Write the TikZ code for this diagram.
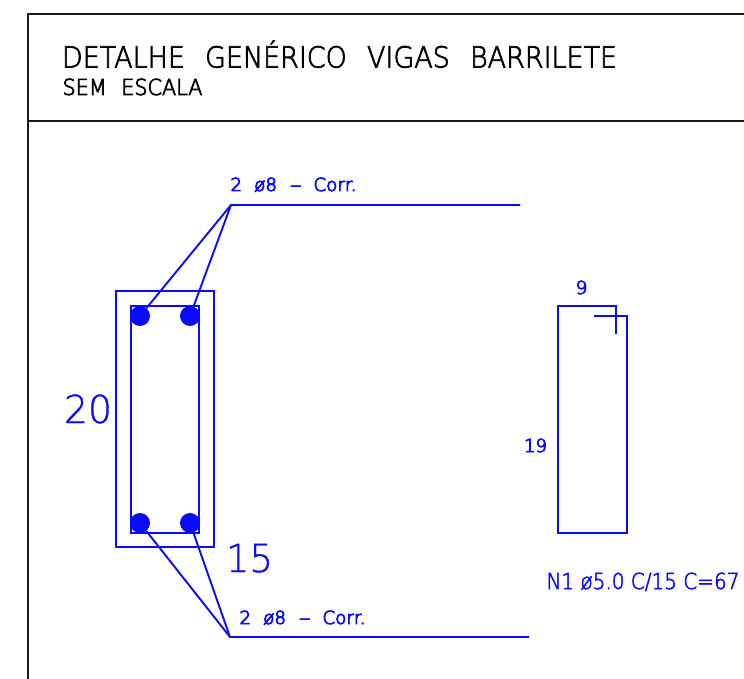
\documentclass[tikz,border=0pt]{standalone}
\usepackage{graphicx}
\usepackage{fontspec}
\newfontfamily\titlefont[FakeBold=2.5]{DejaVu Sans ExtraLight}
\newfontfamily\subfont[FakeBold=3.5]{DejaVu Sans ExtraLight}
\newfontfamily\labelfont[FakeBold=5]{DejaVu Sans ExtraLight}
\newfontfamily\dimfont[FakeBold=1]{DejaVu Sans ExtraLight}
\newfontfamily\notefont[FakeBold=2.5]{DejaVu Sans ExtraLight}
\definecolor{cadblue}{RGB}{10,10,255}
\definecolor{frameink}{RGB}{25,25,25}
\newcommand\fitw[2]{\resizebox{#1}{\height}{#2}}
\tikzset{
  frameline/.style={draw=frameink,line width=2pt},
  rebar/.style={draw=cadblue,line width=1.9pt},
  boxline/.style={rectangle,draw=cadblue,line width=1.9pt,inner sep=0pt,outer sep=0pt,anchor=north west},
  barnode/.style={circle,fill=cadblue,inner sep=0pt,outer sep=0pt,minimum size=20pt},
  txt/.style={anchor=base west,inner sep=0pt,outer sep=0pt},
  title/.style={txt,text=black},
  thin/.style={txt,text=cadblue},
  small/.style={txt,text=cadblue}
}
\begin{document}
\begin{tikzpicture}[x=1pt,y=-1pt]
\useasboundingbox (0,0) rectangle (744,679);
% frame
\coordinate (ftl) at (28,14);
\coordinate (ftr) at (744,14);
\coordinate (fbl) at (28,679);
\coordinate (fml) at (28,121);
\coordinate (fmr) at (744,121);
\draw[frameline] (ftr) -- (ftl) -- (fbl);
\draw[frameline] (fml) -- (fmr);
% title
\node[title,font=\titlefont\fontsize{29}{30}\selectfont] (t1) at (62,67.5) {\fitw{555pt}{DETALHE\hspace{0.75em}GENÉRICO\hspace{0.75em}VIGAS\hspace{0.75em}BARRILETE}};
\node[title,font=\subfont\fontsize{22}{22}\selectfont] (t2) at (62.5,95) {\fitw{140pt}{SEM\hspace{0.7em}ESCALA}};
% section
\node[boxline,minimum width=98pt,minimum height=256pt] (outer) at (116,291) {};
\node[boxline,minimum width=68pt,minimum height=227pt] (inner) at (131,306) {};
\node[barnode] (b1) at (140,316) {};
\node[barnode] (b2) at (190,316) {};
\node[barnode] (b3) at (140,523) {};
\node[barnode] (b4) at (190,523) {};
% leaders
\coordinate (l1) at (231,205);
\coordinate (l1e) at (520,205);
\coordinate (l2) at (230,637);
\coordinate (l2e) at (529,637);
\draw[rebar] (b1) -- (l1) -- (l1e);
\draw[rebar] (b2) -- (l1);
\draw[rebar] (b3) -- (l2) -- (l2e);
\draw[rebar] (b4) -- (l2);
\node[small,font=\labelfont\fontsize{18}{18}\selectfont] (c1) at (230.5,191) {\fitw{126pt}{2\hspace{12pt}ø8\hspace{13pt}\resizebox{11pt}{\height}{–}\hspace{12pt}Corr.}};
\node[small,font=\labelfont\fontsize{18}{18}\selectfont] (c2) at (239.5,624) {\fitw{126pt}{2\hspace{12pt}ø8\hspace{13pt}\resizebox{11pt}{\height}{–}\hspace{12pt}Corr.}};
\node[thin,font=\dimfont\fontsize{38.5}{41}\selectfont] (d20) at (64,423) {\fitw{48pt}{20}};
\node[thin,font=\dimfont\fontsize{38.5}{41}\selectfont] (d15) at (226,572) {\fitw{47pt}{15}};
% stirrup
\coordinate (s1) at (616,334);
\coordinate (s2) at (616,306);
\coordinate (s3) at (558,306);
\coordinate (s4) at (558,533);
\coordinate (s5) at (627,533);
\coordinate (s6) at (627,316);
\coordinate (s7) at (594,316);
\draw[rebar] (s1) -- (s2) -- (s3) -- (s4) -- (s5) -- (s6) -- (s7);
\node[small,font=\labelfont\fontsize{18}{18}\selectfont] (n9) at (575.5,294) {\fitw{12pt}{9}};
\node[small,font=\labelfont\fontsize{18}{18}\selectfont] (n19) at (524,452) {\fitw{23pt}{19}};
\node[thin,font=\notefont\fontsize{22}{23}\selectfont] (n1) at (546.5,589) {\fitw{193pt}{N1 ø5.0 C/15 C=67}};
\end{tikzpicture}
\end{document}
